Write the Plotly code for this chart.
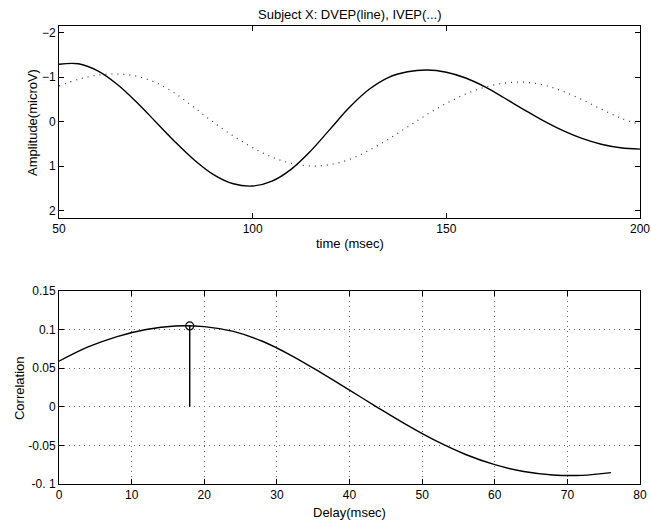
import plotly.graph_objects as go

# ---- data ----
time_ms = [50, 55, 60, 65, 70, 75, 80, 85, 90, 95, 100, 105, 110, 115, 120, 125,
           130, 135, 140, 145, 150, 155, 160, 165, 170, 175, 180, 185, 190, 195, 200]
dvep = [-1.29, -1.30, -1.14, -0.84, -0.44, 0.01, 0.46, 0.87, 1.20, 1.40, 1.45, 1.34,
        1.07, 0.66, 0.17, -0.32, -0.72, -0.99, -1.12, -1.16, -1.11, -0.98, -0.78,
        -0.53, -0.27, -0.02, 0.20, 0.38, 0.51, 0.59, 0.62]
ivep = [-0.80, -0.95, -1.045, -1.07, -1.02, -0.875, -0.63, -0.31, 0.025, 0.325, 0.59,
        0.80, 0.94, 1.00, 0.97, 0.85, 0.65, 0.40, 0.12, -0.16, -0.41, -0.62, -0.775,
        -0.865, -0.885, -0.825, -0.685, -0.495, -0.28, -0.08, 0.07]

delay_ms = [0, 4, 8, 12, 16, 20, 24, 28, 32, 36, 40, 44, 48, 52, 56, 60, 64, 68, 72, 76]
correlation = [0.059, 0.0775, 0.0910, 0.1002, 0.1047, 0.1039, 0.0977, 0.0849, 0.0664,
               0.0446, 0.0216, -0.0016, -0.0241, -0.0446, -0.0618, -0.0750, -0.0838,
               -0.0883, -0.0888, -0.0853]

peak_delay = 18
peak_corr = 0.1047

top_xticks = [50, 100, 150, 200]
top_yticks = [-2, -1, 0, 1, 2]
bot_xticks = [0, 10, 20, 30, 40, 50, 60, 70, 80]
bot_yticks = [-0.1, -0.05, 0, 0.05, 0.1, 0.15]
bot_yticklabels = ["-0. 1", "-0.05", "0", "0.05", "0.1", "0.15"]

FONT = "Liberation Sans, Arial, Helvetica, sans-serif"

fig = go.Figure()

fig.add_trace(go.Scatter(x=time_ms, y=ivep, mode="lines", line_shape="spline",
                         line=dict(color="#333333", width=1.2, dash="1px,5px"),
                         xaxis="x", yaxis="y", showlegend=False))
fig.add_trace(go.Scatter(x=time_ms, y=dvep, mode="lines", line_shape="spline",
                         line=dict(color="black", width=1.4),
                         xaxis="x", yaxis="y", showlegend=False))

fig.add_trace(go.Scatter(x=delay_ms, y=correlation, mode="lines", line_shape="spline",
                         line=dict(color="black", width=1.4),
                         xaxis="x2", yaxis="y2", showlegend=False))
fig.add_trace(go.Scatter(x=[peak_delay, peak_delay], y=[0, peak_corr], mode="lines",
                         line=dict(color="black", width=1.4),
                         xaxis="x2", yaxis="y2", showlegend=False))
fig.add_trace(go.Scatter(x=[peak_delay], y=[peak_corr], mode="markers",
                         marker=dict(symbol="circle-open", size=8, color="black",
                                     line=dict(width=1.2, color="black")),
                         xaxis="x2", yaxis="y2", showlegend=False))

axis_common = dict(showline=True, linecolor="black", linewidth=1, mirror="ticks",
                   ticks="inside", ticklen=5, tickcolor="black", zeroline=False,
                   automargin=False,
                   tickfont=dict(family=FONT, size=12, color="black"))

GRID = dict(showgrid=True, gridcolor="#666666", griddash="1px,4px", gridwidth=1)

def label(text, x, y, angle=0):
    return dict(text=text, xref="paper", yref="paper", x=x, y=y,
                xanchor="center", yanchor="middle", showarrow=False, textangle=angle,
                font=dict(family=FONT, size=13, color="black"))

fig.update_layout(
    width=651, height=525,
    margin=dict(l=59, r=11, t=26, b=41),
    paper_bgcolor="white", plot_bgcolor="white",
    font=dict(family=FONT, size=12, color="black"),
    hovermode=False,
    xaxis=dict(domain=[0, 1], range=[50, 200], tickvals=top_xticks, anchor="y",
               showgrid=False, **axis_common),
    yaxis=dict(domain=[0.5808, 1], range=[2.17, -2.15], tickvals=top_yticks, anchor="x",
               showgrid=False, **axis_common),
    xaxis2=dict(domain=[0, 1], range=[0, 80], tickvals=bot_xticks, anchor="y2",
                **GRID, **axis_common),
    yaxis2=dict(domain=[0, 0.4214], range=[-0.1, 0.15], tickvals=bot_yticks,
                ticktext=bot_yticklabels, anchor="x2", **GRID, **axis_common),
    annotations=[
        label("Subject X: DVEP(line), IVEP(...)", 0.5, 1.026),
        label("time (msec)", 0.5, 0.5262),
        label("Delay(msec)", 0.5, -0.0633),
        label("Amplitude(microV)", -0.0448, 0.7904, -90),
        label("Correlation", -0.0688, 0.2096, -90),
    ],
)

fig.write_html(
    "out.html",
    config={"displayModeBar": False},
    post_script="document.body.style.margin='0px';document.body.style.overflow='hidden';",
)
